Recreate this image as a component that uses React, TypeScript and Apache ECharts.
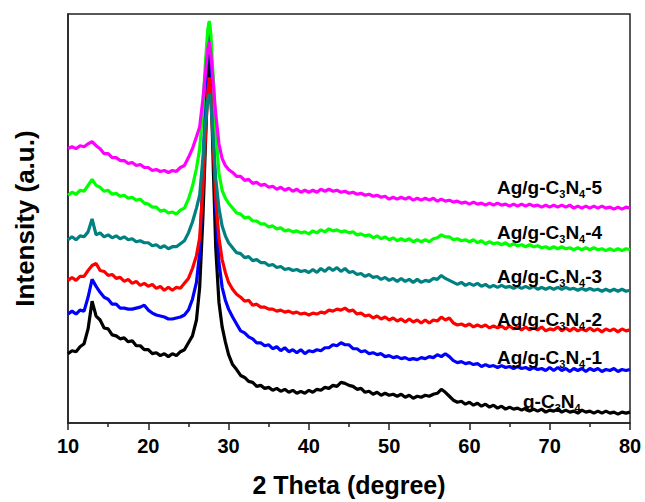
import React, { useEffect, useRef } from "react";
import * as echarts from "echarts";

// 2θ positions (degree) at which the curves were read
const twoTheta = [
  10, 10.5, 11, 11.5, 12, 12.5, 13, 13.5, 14, 14.5, 15, 15.5, 16, 16.5, 17, 17.5, 18, 18.5, 19, 19.5,
  20, 20.5, 21, 21.5, 22, 22.5, 23, 23.5, 24, 24.5, 25, 25.5,
  26, 26.4, 26.8, 27.1, 27.4, 27.6, 27.8, 28.1, 28.4, 28.8, 29.2, 29.6, 30,
  30.5, 31, 31.5, 32, 32.5, 33, 33.5, 34, 34.5, 35, 35.5, 36, 36.5, 37, 37.5, 38, 38.5, 39, 39.5, 40,
  40.5, 41, 41.5, 42, 42.5, 43, 43.5, 44, 44.5, 45, 45.5, 46, 46.5, 47, 47.5, 48, 48.5, 49, 49.5, 50,
  50.5, 51, 51.5, 52, 52.5, 53, 53.5, 54, 54.5, 55, 55.5, 56, 56.5, 57, 57.5, 58, 58.5, 59, 59.5, 60,
  60.5, 61, 61.5, 62, 62.5, 63, 63.5, 64, 64.5, 65, 65.5, 66, 66.5, 67, 67.5, 68, 68.5, 69, 69.5, 70,
  70.5, 71, 71.5, 72, 72.5, 73, 73.5, 74, 74.5, 75, 75.5, 76, 76.5, 77, 77.5, 78, 78.5, 79, 79.5, 80,
];

// Intensities (a.u.), stacked curves
const gC3N4 = [
  70, 73, 72, 77, 80, 95, 123, 108, 104, 96, 95, 89, 88, 85, 86, 82, 83, 78, 78, 74,
  74, 70, 71, 68, 70, 67, 70, 68, 72, 74, 81, 88,
  104, 137, 207, 277, 347, 372, 347, 257, 177, 122, 97, 82, 69,
  59, 54, 48, 46, 42, 41, 37, 38, 35, 36, 33, 35, 32, 34, 31, 33, 30, 32, 30, 33,
  31, 34, 33, 36, 35, 38, 37, 41, 40, 38, 37, 34, 35, 31, 32, 29, 31, 28, 30, 28,
  29, 27, 29, 26, 28, 25, 27, 26, 28, 27, 29, 30, 34, 31, 27, 23, 21, 22, 19, 21,
  18, 20, 17, 19, 16, 18, 15, 17, 14, 16, 14, 15, 13, 15, 12, 14, 12, 14, 11, 13,
  12, 14, 11, 13, 11, 12, 10, 13, 11, 12, 10, 12, 10, 12, 10, 11, 9, 11, 10, 11,
];
const ag1 = [
  110, 113, 110, 114, 113, 127, 145, 138, 132, 127, 125, 120, 120, 116, 116, 115, 115, 116, 117, 119,
  114, 111, 109, 108, 107, 105, 105, 106, 107, 109, 114, 125,
  142, 172, 247, 327, 387, 404, 377, 297, 217, 162, 137, 124, 115,
  107, 100, 93, 91, 87, 85, 81, 81, 78, 79, 75, 77, 73, 76, 72, 74, 71, 74, 70, 73,
  72, 74, 73, 76, 76, 79, 78, 81, 79, 79, 75, 75, 72, 73, 70, 71, 69, 70, 67, 68,
  66, 67, 65, 66, 64, 65, 64, 66, 65, 67, 66, 69, 67, 70, 67, 63, 61, 62, 60, 61,
  59, 60, 57, 59, 57, 58, 56, 58, 56, 57, 55, 57, 55, 56, 54, 56, 54, 55, 53, 56,
  53, 56, 53, 55, 52, 55, 53, 55, 52, 55, 53, 55, 52, 54, 53, 55, 52, 54, 53, 54,
];
const ag2 = [
  144, 147, 144, 148, 148, 154, 159, 161, 154, 153, 149, 150, 146, 147, 143, 145, 141, 143, 139, 141,
  138, 140, 136, 138, 134, 137, 134, 137, 136, 141, 146, 156,
  169, 187, 237, 287, 332, 349, 332, 277, 227, 187, 165, 152, 142,
  135, 130, 127, 123, 124, 119, 120, 117, 117, 115, 115, 113, 114, 112, 113, 111, 112, 110, 111, 109,
  111, 110, 112, 111, 114, 113, 115, 114, 116, 113, 114, 110, 111, 108, 109, 106, 108, 105, 107, 104,
  106, 103, 105, 102, 105, 102, 104, 101, 104, 101, 104, 103, 107, 104, 106, 101, 99, 100, 98, 100,
  97, 99, 97, 99, 96, 98, 96, 98, 95, 98, 95, 97, 94, 97, 94, 96, 94, 97, 93, 95,
  94, 97, 93, 96, 93, 96, 93, 95, 93, 96, 93, 95, 92, 95, 93, 95, 92, 95, 93, 94,
];
const ag3 = [
  185, 188, 185, 189, 188, 193, 206, 190, 192, 188, 190, 187, 189, 186, 188, 185, 186, 183, 184, 182,
  182, 179, 180, 177, 179, 176, 178, 178, 181, 184, 192, 203,
  217, 230, 267, 302, 327, 332, 322, 287, 247, 217, 199, 189, 182,
  177, 172, 171, 167, 168, 164, 165, 162, 162, 159, 160, 157, 158, 155, 156, 154, 155, 153, 154, 152,
  155, 152, 156, 153, 157, 154, 157, 153, 156, 152, 153, 150, 151, 148, 150, 147, 148, 145, 147, 144,
  146, 143, 146, 143, 145, 142, 145, 142, 144, 143, 146, 145, 149, 146, 144, 142, 140, 142, 139, 141,
  139, 141, 138, 140, 137, 139, 137, 139, 137, 138, 136, 138, 136, 138, 136, 138, 135, 137, 135, 137,
  135, 137, 135, 137, 135, 136, 134, 136, 134, 136, 134, 135, 133, 135, 133, 135, 133, 135, 133, 134,
];
const ag4 = [
  230, 233, 231, 235, 234, 240, 246, 240, 238, 234, 235, 231, 232, 229, 230, 227, 228, 225, 226, 222,
  221, 218, 218, 214, 215, 212, 213, 211, 215, 217, 226, 239,
  257, 277, 317, 362, 397, 406, 392, 347, 297, 252, 235, 227, 222,
  217, 212, 211, 207, 208, 204, 204, 201, 201, 198, 199, 196, 197, 194, 195, 193, 194, 192, 193, 191,
  194, 192, 195, 193, 196, 194, 195, 193, 194, 192, 193, 190, 191, 189, 190, 187, 189, 186, 188, 185,
  187, 184, 186, 184, 186, 183, 185, 183, 185, 183, 186, 187, 190, 188, 188, 185, 186, 184, 185, 183,
  185, 182, 184, 181, 183, 181, 182, 180, 182, 179, 181, 179, 180, 178, 180, 178, 179, 177, 178, 176,
  178, 176, 178, 176, 177, 175, 177, 175, 177, 175, 177, 175, 176, 174, 176, 174, 176, 174, 176, 175,
];
const ag5 = [
  277, 279, 277, 280, 279, 282, 284, 280, 277, 272, 272, 268, 268, 265, 265, 262, 263, 260, 261, 258,
  258, 255, 256, 254, 255, 253, 255, 254, 258, 260, 268, 277,
  289, 299, 327, 352, 377, 385, 372, 342, 312, 282, 267, 260, 256,
  253, 249, 249, 245, 246, 242, 243, 240, 241, 238, 239, 236, 238, 235, 237, 234, 236, 233, 235, 233,
  235, 233, 236, 234, 236, 234, 235, 233, 234, 232, 233, 231, 232, 230, 231, 229, 230, 228, 229, 226,
  228, 226, 228, 226, 228, 225, 227, 225, 227, 225, 227, 224, 226, 224, 225, 223, 224, 222, 223, 221,
  223, 221, 222, 220, 222, 220, 222, 220, 221, 219, 221, 219, 221, 219, 221, 219, 220, 218, 220, 218,
  220, 218, 220, 218, 220, 217, 219, 217, 219, 217, 219, 217, 219, 217, 218, 216, 218, 216, 218, 217,
];

const sampleNames = ["g-C3N4", "Ag/g-C3N4-1", "Ag/g-C3N4-2", "Ag/g-C3N4-3", "Ag/g-C3N4-4", "Ag/g-C3N4-5"];
const sampleValues = [gC3N4, ag1, ag2, ag3, ag4, ag5];
const sampleColors = ["#000000", "#0000ff", "#ff0000", "#008080", "#00ff00", "#ff00ff"];
const xTicks = [10, 20, 30, 40, 50, 60, 70, 80];

// label anchor positions (px)
const labelPos: [number, number][] = [
  [523, 401],
  [497, 357],
  [497, 319],
  [497, 276],
  [497, 232],
  [497, 187],
];

const FONT = "'Liberation Sans', Arial, Helvetica, sans-serif";

function toRich(t: string): string {
  let s = "{a|" + t.replace("C3N4", "C}{s|3}{a|N}{s|4}{a|") + "}";
  s = s.replace("{a|}", "");
  return s;
}

export default function App() {
  const ref = useRef<HTMLDivElement>(null);
  useEffect(() => {
    const chart = echarts.init(ref.current!, null, { renderer: "svg" });
    const series = sampleNames.map((name, k) => ({
      name,
      type: "line",
      data: twoTheta.map((x, i) => [x, sampleValues[k][i]]),
      showSymbol: false,
      symbol: "none",
      lineStyle: { color: sampleColors[k], width: 3.2 },
      itemStyle: { color: sampleColors[k] },
      z: 2 + k,
    }));
    const graphics = sampleNames.map((name, k) => ({
      type: "text",
      x: labelPos[k][0],
      y: labelPos[k][1],
      z: 100,
      style: {
        text: toRich(name),
        align: "left",
        verticalAlign: "middle",
        fill: "#000",
        font: `bold 19px ${FONT}`,
        rich: {
          a: { fontSize: 19, fontWeight: "bold", fontFamily: FONT, fill: "#000", lineHeight: 25 },
          s: { fontSize: 11, fontWeight: "bold", fontFamily: FONT, fill: "#000", lineHeight: 11, verticalAlign: "bottom" },
        },
      },
    }));
    chart.setOption({
      animation: false,
      backgroundColor: "#ffffff",
      grid: {
        left: 68,
        right: 15,
        top: 14,
        bottom: 75,
        show: true,
        borderColor: "#222",
        borderWidth: 1.5,
        backgroundColor: "transparent",
      },
      xAxis: {
        type: "value",
        min: 10,
        max: 80,
        interval: 10,
        name: "2 Theta (degree)",
        nameLocation: "middle",
        nameGap: 49,
        nameTextStyle: { fontSize: 25, fontWeight: "bold", fontFamily: FONT, color: "#000" },
        axisLine: { show: true, onZero: false, lineStyle: { color: "#222", width: 1.5 } },
        axisTick: { show: true, inside: false, length: 7, lineStyle: { color: "#222", width: 1.5 } },
        minorTick: { show: true, splitNumber: 2, length: 4, lineStyle: { color: "#222", width: 1.5 } },
        axisLabel: {
          margin: 13,
          fontSize: 20,
          fontWeight: "bold",
          fontFamily: FONT,
          color: "#000",
          formatter: (v: number) => (xTicks.includes(v) ? String(v) : ""),
        },
        splitLine: { show: false },
      },
      yAxis: {
        type: "value",
        min: 0,
        max: 413,
        name: "Intensity (a.u.)",
        nameLocation: "middle",
        nameGap: 30,
        nameTextStyle: { fontSize: 26, fontWeight: "bold", fontFamily: FONT, color: "#000" },
        axisLine: { show: true, lineStyle: { color: "#222", width: 1.5 } },
        axisTick: { show: false },
        axisLabel: { show: false },
        splitLine: { show: false },
      },
      series,
      graphic: graphics,
    });
    return () => chart.dispose();
  }, []);
  return (
    <div
      ref={ref}
      style={{ position: "fixed", left: 0, top: 0, width: 645, height: 502, background: "#fff" }}
    />
  );
}
